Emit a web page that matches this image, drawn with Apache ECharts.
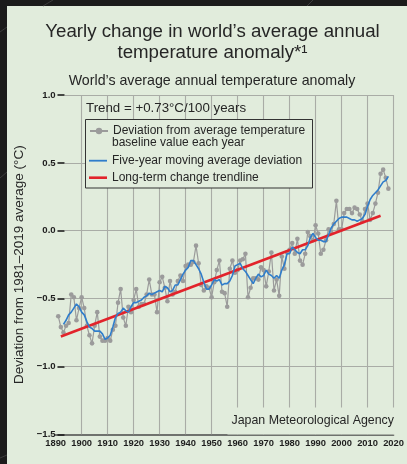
<!DOCTYPE html>
<html><head><meta charset="utf-8">
<script src="https://cdn.jsdelivr.net/npm/echarts@6/dist/echarts.min.js"></script>
<style>html,body{margin:0;padding:0;background:#1b1b1b}#c{width:407px;height:464px}</style>
</head><body><div id="c"></div>
<script>
// ---- data ----
const startYear = 1891;
const annual = [
 -0.63,-0.71,-0.75,-0.70,-0.68,-0.47,-0.49,-0.66,-0.57,-0.49,
 -0.57,-0.70,-0.77,-0.83,-0.70,-0.60,-0.78,-0.81,-0.81,-0.79,
 -0.81,-0.73,-0.70,-0.53,-0.43,-0.64,-0.70,-0.56,-0.60,-0.51,
 -0.43,-0.56,-0.54,-0.54,-0.47,-0.36,-0.47,-0.47,-0.60,-0.38,
 -0.34,-0.42,-0.52,-0.37,-0.47,-0.45,-0.37,-0.33,-0.37,-0.26,
 -0.25,-0.25,-0.23,-0.11,-0.24,-0.40,-0.44,-0.41,-0.42,-0.49,
 -0.38,-0.29,-0.22,-0.45,-0.46,-0.56,-0.28,-0.22,-0.31,-0.29,
 -0.22,-0.21,-0.17,-0.49,-0.42,-0.35,-0.35,-0.36,-0.27,-0.29,
 -0.41,-0.30,-0.16,-0.44,-0.36,-0.48,-0.19,-0.28,-0.16,-0.14,
 -0.09,-0.17,-0.06,-0.22,-0.25,-0.17,-0.01,-0.04,-0.07,0.04,
 -0.02,-0.17,-0.14,-0.07,0.01,-0.01,0.05,0.22,0.01,0.01,
 0.13,0.16,0.16,0.13,0.17,0.16,0.12,0.07,0.16,0.20,
 0.08,0.13,0.20,0.28,0.42,0.45,0.39,0.31
];
const maStartYear = 1893;
const movingAvg = [
 -0.69,-0.66,-0.62,-0.60,-0.57,-0.54,-0.56,-0.60,
 -0.62,-0.67,-0.71,-0.72,-0.74,-0.74,-0.74,-0.76,-0.80,-0.79,
 -0.77,-0.71,-0.64,-0.61,-0.60,-0.57,-0.59,-0.60,-0.56,-0.53,
 -0.53,-0.52,-0.51,-0.49,-0.48,-0.46,-0.47,-0.46,-0.45,-0.44,
 -0.45,-0.41,-0.42,-0.45,-0.44,-0.40,-0.40,-0.36,-0.32,-0.29,
 -0.27,-0.22,-0.22,-0.25,-0.28,-0.32,-0.38,-0.43,-0.43,-0.40,
 -0.36,-0.37,-0.36,-0.40,-0.39,-0.39,-0.37,-0.33,-0.26,-0.25,
 -0.24,-0.28,-0.30,-0.33,-0.36,-0.39,-0.35,-0.32,-0.34,-0.33,
 -0.29,-0.32,-0.33,-0.35,-0.33,-0.35,-0.29,-0.25,-0.17,-0.17,
 -0.12,-0.14,-0.16,-0.17,-0.14,-0.14,-0.11,-0.05,-0.02,-0.05,
 -0.07,-0.07,-0.08,-0.08,-0.03,0.02,0.05,0.07,0.09,0.10,
 0.10,0.10,0.09,0.08,0.08,0.07,0.08,0.09,0.12,0.18,
 0.23,0.26,0.28,0.30,0.33,0.36,0.37,0.40
];
const trendYears = [1892, 2015];
const trendValues = [-0.78, 0.11];
const xTicks = [1890,1900,1910,1920,1930,1940,1950,1960,1970,1980,1990,2000,2010,2020];
const yTicks = [-1.5,-1.0,-0.5,0.0,0.5,1.0];

const S1 = 'Deviation from average temperature';
const S1b = 'baseline value each year';
const S2 = 'Five-year moving average deviation';
const S3 = 'Long-term change trendline';

// ---- build ----
const annualData = annual.map((v,i)=>[startYear+i, v]);
const maData = movingAvg.map((v,i)=>[maStartYear+i, v]);
const trendData = trendYears.map((y,i)=>[y, trendValues[i]]);
const gridLines = [];
yTicks.filter(v=>v>-1.5).forEach(v=>gridLines.push([{coord:[1893.4,v]},{coord:[2020,v]}]));
xTicks.filter(y=>y>1890).forEach(y=>gridLines.push([{coord:[y,-1.5]},{coord:[y,1.0]}]));
const tickDashes = yTicks.map(v=>[{coord:[1890.7,v]},{coord:[1893.4,v]}]);

const SANS = '"Liberation Sans", Arial, sans-serif';
const INK = '#262626';
const PANEL = '#e1ecdc';
const BLUE = '#2f7dcb', RED = '#e2232b', GRAY = '#9b9b9b';

const chart = echarts.init(document.getElementById('c'));
const legendBase = {orient:'vertical', left:89, itemWidth:18, padding:0, selectedMode:false, z:6,
  textStyle:{fontFamily:SANS, fontSize:12, color:INK, lineHeight:14}};
chart.setOption({
  animation:false,
  backgroundColor: PANEL,
  grid:{left:55.65, right:6.7, top:95, bottom:29.7, containLabel:false},
  xAxis:{type:'value', min:1890, max:2020, interval:10,
    axisLine:{show:true, onZero:false, lineStyle:{color:'#4a4a4a', width:1.6}},
    axisTick:{show:false}, splitLine:{show:false},
    axisLabel:{formatter:v=>String(v), showMaxLabel:true, showMinLabel:true, hideOverlap:false,
      fontFamily:SANS, fontWeight:'bold', fontSize:9.4, color:'#1e1e1e', margin:5}},
  yAxis:{type:'value', min:-1.5, max:1.0, interval:0.5, offset:-9,
    axisLine:{show:false}, axisTick:{show:false},
    splitLine:{show:false},
    axisLabel:{formatter:v=>(v<0?'−':'')+Math.abs(v).toFixed(1), fontFamily:SANS, fontWeight:'bold', fontSize:9.6, color:'#1e1e1e', margin:9},
    name:'Deviation from 1981–2019 average (°C)', nameLocation:'middle', nameGap:25,
    nameTextStyle:{fontFamily:SANS, fontSize:13.5, color:INK}},
  legend:[
    Object.assign({}, legendBase, {top:124, itemHeight:8, data:[S1]}),
    Object.assign({}, legendBase, {top:153.7, itemHeight:1.8, data:[{name:S2, icon:'rect'}]}),
    Object.assign({}, legendBase, {top:170.7, itemHeight:2.6, data:[{name:S3, icon:'rect'}]})
  ],
  series:[
    {type:'line', name:'grid', data:[], z:1, silent:true,
     markLine:{z:1, silent:true, symbol:['none','none'], label:{show:false}, animation:false,
       lineStyle:{color:'#a9aca6', width:1.1, type:'solid'}, emphasis:{disabled:true}, data:gridLines}},
    {type:'line', name:'ticks', data:[], z:1, silent:true,
     markLine:{z:2, silent:true, symbol:['none','none'], label:{show:false}, animation:false,
       lineStyle:{color:'#1e1e1e', width:1.6, type:'solid'}, emphasis:{disabled:true}, data:tickDashes}},
    {type:'line', name:S1, data:annualData, z:2, symbol:'circle', symbolSize:4.6, showSymbol:true,
     lineStyle:{color:GRAY, width:1.2}, itemStyle:{color:GRAY}},
    {type:'line', name:S3, data:trendData, z:3, symbol:'none',
     lineStyle:{color:RED, width:2.6}, itemStyle:{color:RED}},
    {type:'line', name:S2, data:maData, z:4, symbol:'none',
     lineStyle:{color:BLUE, width:1.6}, itemStyle:{color:BLUE}}
  ],
  graphic:[
    {type:'rect', shape:{x:0,y:0,width:407,height:6}, style:{fill:'#1b1b1b'}, z:10},
    {type:'rect', shape:{x:0,y:0,width:7,height:464}, style:{fill:'#1b1b1b'}, z:10},
    {type:'line', shape:{x1:43,y1:6,x2:53,y2:0}, style:{stroke:'#3c3c3c', lineWidth:1}, z:11},
    {type:'line', shape:{x1:307,y1:6,x2:313,y2:0}, style:{stroke:'#3c3c3c', lineWidth:1}, z:11},
    {type:'line', shape:{x1:0,y1:32,x2:7,y2:27}, style:{stroke:'#3c3c3c', lineWidth:1}, z:11},
    {type:'line', shape:{x1:0,y1:178,x2:7,y2:172}, style:{stroke:'#3c3c3c', lineWidth:1}, z:11},
    {type:'line', shape:{x1:0,y1:458,x2:7,y2:455}, style:{stroke:'#3c3c3c', lineWidth:1}, z:11},
    {type:'text', x:212.5, y:42.5, z:5, style:{text:"Yearly change in world’s average annual\ntemperature anomaly*¹",
      align:'center', verticalAlign:'middle', lineHeight:20.5, fontSize:18.7, fontFamily:SANS, fill:INK}},
    {type:'text', x:212, y:81, z:5, style:{text:"World’s average annual temperature anomaly",
      align:'center', verticalAlign:'middle', fontSize:14.2, fontFamily:SANS, fill:INK}},
    {type:'text', x:86, y:108, z:5, style:{text:"Trend = +0.73°C/100 years",
      align:'left', verticalAlign:'middle', fontSize:13.3, fontFamily:SANS, fill:INK}},
    {type:'rect', shape:{x:85.5, y:119.5, width:227, height:68.5}, z:3,
      style:{fill:PANEL, stroke:'#333', lineWidth:1}},
    {type:'text', x:112, y:142.5, z:5, style:{text:S1b, align:'left', verticalAlign:'middle',
      fontSize:12, fontFamily:SANS, fill:INK}},
    {type:'text', x:397, y:421, z:5, style:{text:"Japan Meteorological Agency", align:'right', verticalAlign:'middle',
      fontSize:12.4, fontFamily:SANS, fill:INK, backgroundColor:PANEL, padding:[6,3,9,4]}}
  ]
});
</script></body></html>
